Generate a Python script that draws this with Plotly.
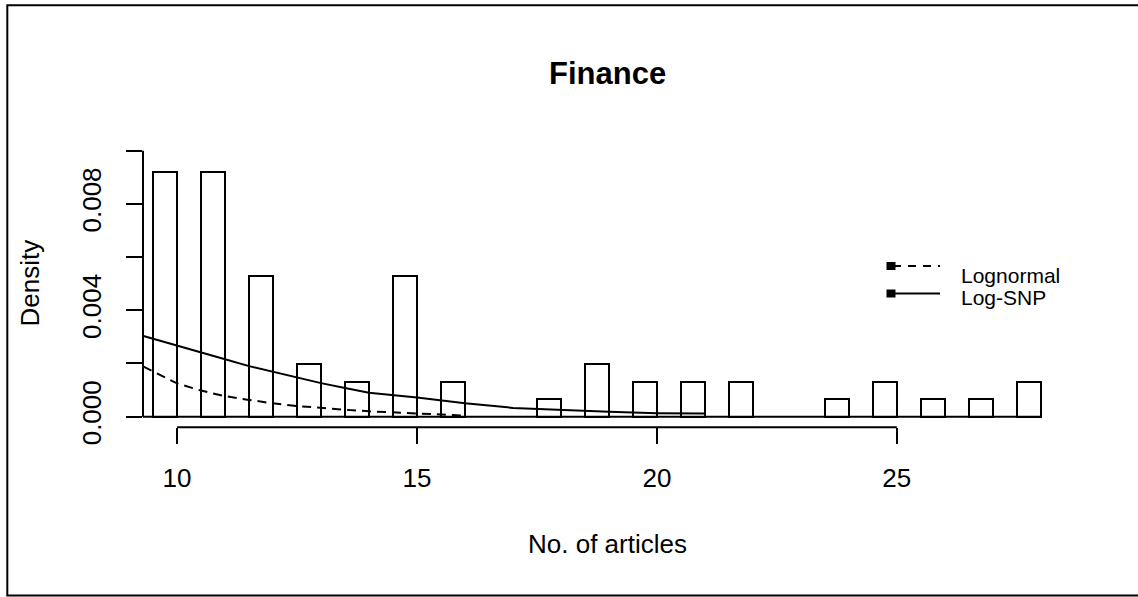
import plotly.graph_objects as go

W, H = 1138, 597

# ---------------- data ----------------
bar_left = [9.5, 10.5, 11.5, 12.5, 13.5, 14.5, 15.5, 17.5, 18.5, 19.5,
            20.5, 21.5, 23.5, 24.5, 25.5, 26.5, 27.5]
bar_density = [0.0092, 0.0092, 0.0053, 0.00197, 0.0013, 0.0053, 0.0013,
               0.00066, 0.00197, 0.0013, 0.0013, 0.0013, 0.00066, 0.0013,
               0.00066, 0.00066, 0.0013]
bin_width = 0.5
hist_range = [9.0, 28.0]

lognormal_x = [9.3, 10, 10.5, 11, 11.5, 12, 12.5, 13, 13.5, 14, 15, 16]
lognormal_y = [0.00188, 0.00125, 0.00098, 0.00077, 0.00063, 0.0005, 0.0004,
               0.00032, 0.00026, 0.0002, 0.00012, 0.00004]

logsnp_x = [9.3, 10, 11, 11.5, 12, 12.5, 13, 13.5, 14, 15, 16, 17, 18, 19, 20, 21]
logsnp_y = [0.00303, 0.00266, 0.00216, 0.0019, 0.00169, 0.00146, 0.00126,
            0.00108, 0.0009, 0.00072, 0.0005, 0.00033, 0.00025, 0.00018,
            0.00013, 0.00012]

x_ticks = [10, 15, 20, 25]
y_ticks = [0, 0.002, 0.004, 0.006, 0.008, 0.010]
y_tick_labels = ["0.000", "", "0.004", "", "0.008", ""]
x_range = [9.29, 28.63]
y_range = [-0.0004, 0.0104]

title_text = "Finance"
x_title = "No. of articles"
y_title = "Density"
legend_labels = ["Lognormal", "Log-SNP"]

# ---------------- helpers (pixel -> paper) ----------------
def px(x):
    return x / W

def py(y):
    return 1 - y / H

FONT = "Liberation Sans, Arial, sans-serif"
LW = 2

dom_x = [px(143), px(1071)]
dom_y = [py(427.3), py(140)]

fig = go.Figure()

# baseline of histogram (empty bins)
fig.add_trace(go.Scatter(x=hist_range, y=[0, 0], mode="lines",
                         line=dict(color="black", width=LW),
                         hoverinfo="skip", showlegend=False))

# histogram bars
fig.add_trace(go.Bar(
    x=[l + bin_width / 2 for l in bar_left], y=bar_density, width=bin_width,
    marker=dict(color="rgba(255,255,255,0)", line=dict(color="black", width=LW)),
    showlegend=False))

# density curves
fig.add_trace(go.Scatter(x=lognormal_x, y=lognormal_y, mode="lines",
                         line=dict(color="black", width=LW, dash="9px,6px"),
                         name=legend_labels[0], showlegend=False))
fig.add_trace(go.Scatter(x=logsnp_x, y=logsnp_y, mode="lines",
                         line=dict(color="black", width=LW),
                         name=legend_labels[1], showlegend=False))

shapes = []
# axis lines (R style: from first to last tick)
shapes.append(dict(type="line", xref="x", yref="paper",
                   x0=x_ticks[0], x1=x_ticks[-1], y0=dom_y[0], y1=dom_y[0],
                   line=dict(color="black", width=LW)))
shapes.append(dict(type="line", xref="paper", yref="y",
                   x0=dom_x[0], x1=dom_x[0], y0=y_ticks[0], y1=y_ticks[-1],
                   line=dict(color="black", width=LW)))
# outer frame (left, top, bottom sides visible)
fx0, fx1, fy0, fy1 = px(7.3), px(1150), py(595.5), py(5.3)
shapes.append(dict(type="path", xref="paper", yref="paper",
                   path=f"M {fx1} {fy1} L {fx0} {fy1} L {fx0} {fy0} L {fx1} {fy0}",
                   line=dict(color="black", width=2)))

# legend
leg_line_y = [266, 293.5]
leg_dash = ["8px,7px", "solid"]
for i in range(2):
    shapes.append(dict(type="line", xref="paper", yref="paper",
                       x0=px(893), x1=px(940), y0=py(leg_line_y[i]), y1=py(leg_line_y[i]),
                       line=dict(color="black", width=LW, dash=leg_dash[i])))
    shapes.append(dict(type="rect", xref="paper", yref="paper",
                       x0=px(886.5), x1=px(895.5), y0=py(leg_line_y[i] + 4),
                       y1=py(leg_line_y[i] - 4),
                       fillcolor="black", line=dict(color="black", width=0)))

annotations = []
leg_text_y = [275.3, 297.5]
for i in range(2):
    annotations.append(dict(text=legend_labels[i], xref="paper", yref="paper",
                            x=px(959), y=py(leg_text_y[i]), xanchor="left",
                            yanchor="middle", showarrow=False,
                            font=dict(family=FONT, size=21, color="black")))

annotations.append(dict(text="<b>" + title_text + "</b>", xref="paper", yref="paper",
                        x=px(607), y=py(73.3), xanchor="center", yanchor="middle",
                        showarrow=False, font=dict(family=FONT, size=31, color="black")))
annotations.append(dict(text=x_title, xref="paper", yref="paper",
                        x=px(607), y=py(544), xanchor="center", yanchor="middle",
                        showarrow=False, font=dict(family=FONT, size=26, color="black")))
annotations.append(dict(text=y_title, xref="paper", yref="paper",
                        x=px(29), y=py(283.5), xanchor="center", yanchor="middle",
                        textangle=-90, showarrow=False,
                        font=dict(family=FONT, size=26, color="black")))

fig.update_layout(
    width=W, height=H,
    margin=dict(l=0, r=0, t=0, b=0),
    paper_bgcolor="white", plot_bgcolor="white",
    showlegend=False,
    bargap=0,
    shapes=shapes,
    annotations=annotations,
    font=dict(family=FONT, size=26, color="black"),
    xaxis=dict(domain=dom_x, range=x_range, showgrid=False, zeroline=False,
               showline=False, ticks="outside", ticklen=16, tickwidth=LW,
               tickcolor="black", tickvals=x_ticks,
               ticktext=[str(v) for v in x_ticks],
               tickfont=dict(family=FONT, size=26, color="black"),
               ticklabelstandoff=11, automargin=False, fixedrange=True),
    yaxis=dict(domain=dom_y, range=y_range, showgrid=False, zeroline=False,
               showline=False, ticks="outside", ticklen=16, tickwidth=LW,
               tickcolor="black", tickvals=y_ticks, ticktext=y_tick_labels,
               tickangle=-90,
               tickfont=dict(family=FONT, size=26, color="black"),
               ticklabelstandoff=15, automargin=False, fixedrange=True),
)

fig.write_html("out.html",
               config={"displayModeBar": False},
               post_script="document.body.style.margin='0';document.body.style.overflow='hidden';")
